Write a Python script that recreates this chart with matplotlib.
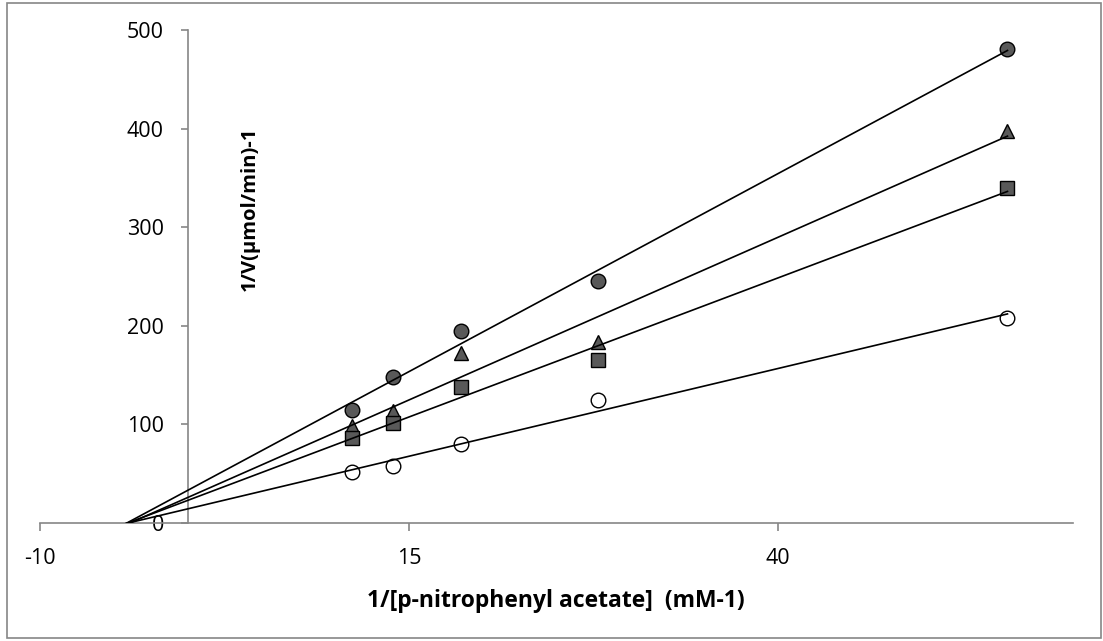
import numpy as np
import matplotlib
matplotlib.use("Agg")
import matplotlib.pyplot as plt
from matplotlib.patches import Rectangle

plt.rcParams['font.family'] = ['Open Sans', 'DejaVu Sans']
plt.rcParams['axes.unicode_minus'] = False

# DATA ########################################################################

# 1/[S] for S = 0.09, 0.072, 0.054, 0.036, 0.018 mM
inv_substrate = [11.11, 13.89, 18.52, 27.78, 55.56]

# 1/V for each inhibitor level
inv_v_filled_circle = [115, 148, 195, 245, 481]
inv_v_triangle = [98, 114, 172, 184, 398]
inv_v_square = [86, 101, 138, 165, 340]
inv_v_open_circle = [52, 58, 80, 125, 208]

x_ticks = [-10, 15, 40]
y_ticks = [0, 100, 200, 300, 400, 500]

# PLOT ########################################################################

axis_grey = '#868686'
fill_grey = '#595959'

series = [
    (inv_v_filled_circle, 'o', fill_grey),
    (inv_v_triangle, '^', fill_grey),
    (inv_v_square, 's', fill_grey),
    (inv_v_open_circle, 'o', 'white'),
]

fig = plt.figure(figsize=(11.03, 6.41), dpi=100)
ax = fig.add_axes([40 / 1103, 118 / 641, 1033 / 1103, 493 / 641])

x = np.array(inv_substrate)
for values, marker, face in series:
    y = np.array(values)
    ax.plot(x, y, linestyle='none', marker=marker, ms=10.5, mfc=face,
            mec='black', mew=1.0, zorder=2, clip_on=False)
    # linear trendline, extended backwards and clipped at the x axis
    slope, icpt = np.polyfit(x, y, 1)
    xs = np.array([-10, x.max()])
    ax.plot(xs, slope * xs + icpt, color='black', lw=1.2, zorder=3)

ax.set_xlim(-10, 60)
ax.set_ylim(0, 500)
ax.set_xticks(x_ticks)
ax.set_yticks(y_ticks)

ax.spines['top'].set_visible(False)
ax.spines['right'].set_visible(False)
ax.spines['left'].set_position(('data', 0))
for side in ('left', 'bottom'):
    ax.spines[side].set_color(axis_grey)
    ax.spines[side].set_linewidth(1.2)

ax.tick_params(axis='x', direction='out', length=6, width=1.2, color=axis_grey,
               pad=12, labelsize=15.5)
ax.tick_params(axis='y', direction='out', length=5, width=1.2, color=axis_grey,
               pad=12, labelsize=15.5)

fig.text(556 / 1103, 1 - 601 / 641, '1/[p-nitrophenyl acetate]  (mM-1)',
         ha='center', va='center', fontsize=16.5, fontweight='bold')
fig.text(250 / 1103, 1 - 209 / 641, '1/V(µmol/min)-1', rotation=90,
         ha='center', va='center', fontsize=14.5, fontweight='bold')

# chart border
fig.add_artist(Rectangle((7 / 1103, 3 / 641), 1094 / 1103, 635 / 641,
                         transform=fig.transFigure, fill=False,
                         ec=axis_grey, lw=1.2))

# SAVE ########################################################################

plt.savefig("out.png", dpi=100)
